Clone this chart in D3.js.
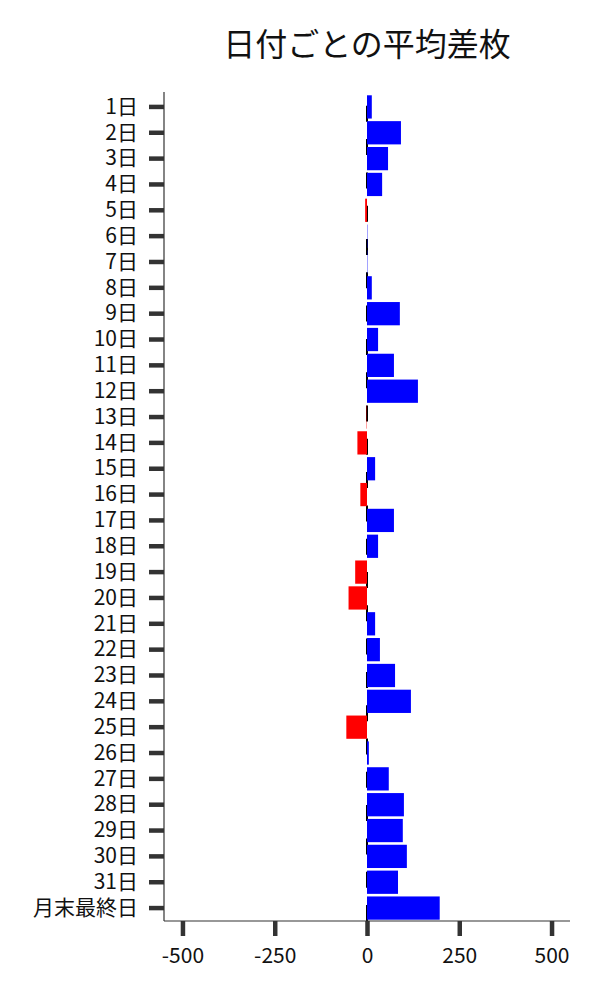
<!DOCTYPE html>
<html>
<head>
<meta charset="utf-8">
<script src="https://cdn.jsdelivr.net/npm/d3@7"></script>
<style>
  body { margin: 0; background: #fff; }
  text { font-family: "Noto Sans CJK JP", "Noto Sans", sans-serif; }
</style>
</head>
<body>
<svg id="chart" width="600" height="1000"></svg>
<script>
// categories and average difference per day
var days = ["1日","2日","3日","4日","5日","6日","7日","8日","9日","10日",
  "11日","12日","13日","14日","15日","16日","17日","18日","19日","20日",
  "21日","22日","23日","24日","25日","26日","27日","28日","29日","30日",
  "31日","月末最終日"];
var avgDiff = [13, 92, 57, 41, -5, 1, 1, 13, 89, 30,
  73, 138, -1, -26, 22, -18, 73, 30, -32, -50,
  22, 35, 76, 119, -56, 5, 59, 100, 97, 108,
  84, 197];
var xTicks = [-500, -250, 0, 250, 500];
var title = "日付ごとの平均差枚";

var svg = d3.select("#chart");

// plot area edges
var pLeft = 164, pRight = 570, pTop = 94, pBottom = 921;

var x = d3.scaleLinear()
  .domain([-550, 550])
  .range([pLeft, pRight]);

var y = d3.scaleBand()
  .domain(days)
  .range([pTop, pBottom])
  .paddingInner(0.1)
  .paddingOuter(0.05);

// dashed zero line, drawn from the bottom up
svg.append("line")
  .attr("x1", x(0)).attr("x2", x(0))
  .attr("y1", pBottom).attr("y2", 92)
  .attr("stroke", "#000")
  .attr("stroke-width", 2)
  .attr("stroke-dasharray", "16,17.3");

// bars
svg.append("g")
  .selectAll("rect")
  .data(days.map((d, i) => ({day: d, v: avgDiff[i]})))
  .enter()
  .append("rect")
  .attr("x", d => x(Math.min(0, d.v)))
  .attr("y", d => y(d.day))
  .attr("width", d => Math.abs(x(d.v) - x(0)))
  .attr("height", y.bandwidth())
  .attr("fill", d => d.v < 0 ? "#ff0000" : "#0000ff");

// axes
var yAxis = svg.append("g")
  .attr("transform", "translate(" + pLeft + ",0)")
  .call(d3.axisLeft(y).tickSize(15).tickPadding(11));

var xAxis = svg.append("g")
  .attr("transform", "translate(0," + pBottom + ")")
  .call(d3.axisBottom(x).tickValues(xTicks).tickFormat(d => String(d))
    .tickSize(15).tickPadding(12));

[yAxis, xAxis].forEach(g => {
  g.select(".domain").remove();
  g.selectAll(".tick line").attr("stroke", "#333").attr("stroke-width", 4.5);
  g.selectAll(".tick text")
    .attr("fill", "#111")
    .style("font-size", "21px")
    .style("font-family", "'Noto Sans CJK JP', sans-serif");
});

// spines
svg.append("line")
  .attr("x1", pLeft).attr("x2", pLeft)
  .attr("y1", 92).attr("y2", pBottom)
  .attr("stroke", "#333").attr("stroke-width", 1.2);
svg.append("line")
  .attr("x1", pLeft).attr("x2", pRight)
  .attr("y1", pBottom).attr("y2", pBottom)
  .attr("stroke", "#333").attr("stroke-width", 1.2);

// title
svg.append("text")
  .attr("x", (pLeft + pRight) / 2)
  .attr("y", 56)
  .attr("text-anchor", "middle")
  .attr("fill", "#111")
  .style("font-size", "32px")
  .text(title);
</script>
</body>
</html>
